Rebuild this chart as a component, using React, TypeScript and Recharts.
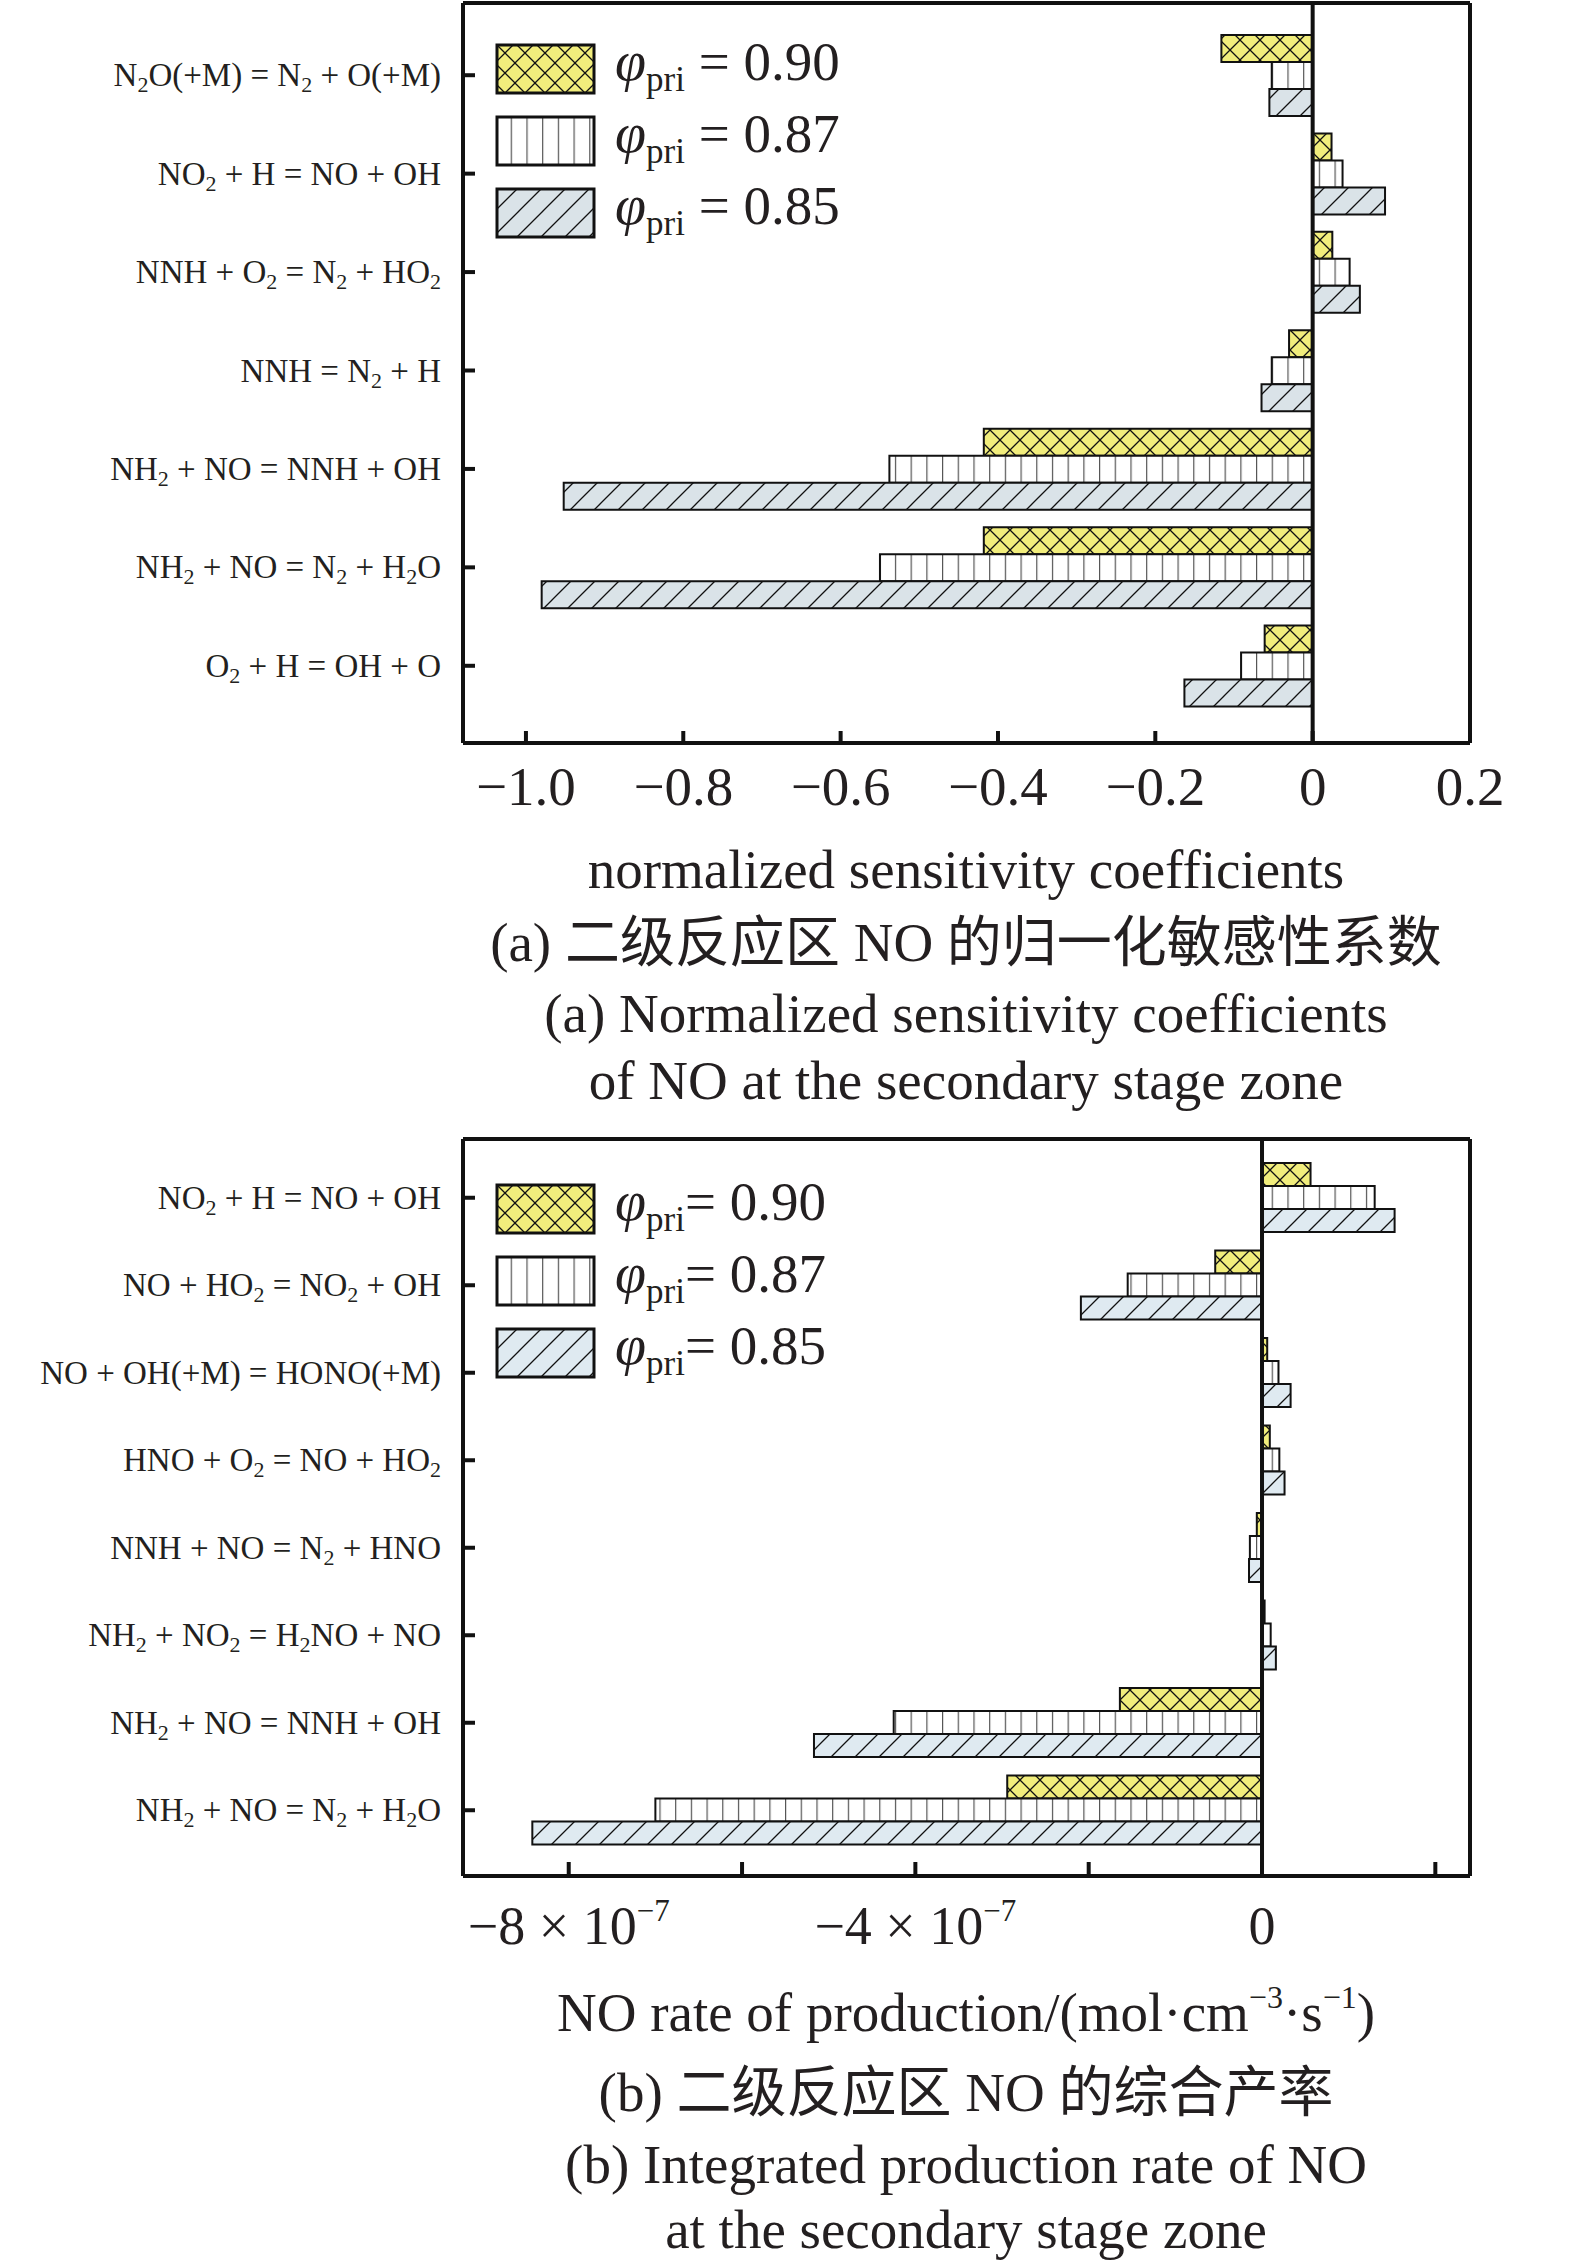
import React from 'react';
import { BarChart, Bar, XAxis, YAxis, ReferenceLine, Legend } from 'recharts';

const sensCategories = [
  'N_2O(+M) = N_2 + O(+M)',
  'NO_2 + H = NO + OH',
  'NNH + O_2 = N_2 + HO_2',
  'NNH = N_2 + H',
  'NH_2 + NO = NNH + OH',
  'NH_2 + NO = N_2 + H_2O',
  'O_2 + H = OH + O',
];
const sens090 = [-0.116, 0.024, 0.025, -0.03, -0.418, -0.418, -0.061];
const sens087 = [-0.052, 0.038, 0.047, -0.052, -0.538, -0.55, -0.091];
const sens085 = [-0.055, 0.092, 0.06, -0.065, -0.952, -0.98, -0.163];
const sensTicks = [-1.0, -0.8, -0.6, -0.4, -0.2, 0, 0.2];
const sensDomain = [-1.08, 0.2];

const ropCategories = [
  'NO_2 + H = NO + OH',
  'NO + HO_2 = NO_2 + OH',
  'NO + OH(+M) = HONO(+M)',
  'HNO + O_2 = NO + HO_2',
  'NNH + NO = N_2 + HNO',
  'NH_2 + NO_2 = H_2NO + NO',
  'NH_2 + NO = NNH + OH',
  'NH_2 + NO = N_2 + H_2O',
];
const rop090 = [0.56e-7, -0.54e-7, 0.06e-7, 0.09e-7, -0.06e-7, 0.03e-7, -1.64e-7, -2.94e-7];
const rop087 = [1.3e-7, -1.55e-7, 0.19e-7, 0.2e-7, -0.14e-7, 0.1e-7, -4.25e-7, -7.0e-7];
const rop085 = [1.53e-7, -2.09e-7, 0.33e-7, 0.26e-7, -0.15e-7, 0.16e-7, -5.17e-7, -8.42e-7];
const ropTicks = [-8e-7, -6e-7, -4e-7, -2e-7, 0, 2e-7];
const ropTickLabels = ['−8', '', '−4', '', '0', ''];
const ropDomain = [-9.22e-7, 2.4e-7];

const seriesNames = ['0.90', '0.87', '0.85'];

const SERIF = "'Liberation Serif', 'Times New Roman', serif";
const CAPTION_FONT = "'Liberation Serif', 'Noto Sans CJK SC', serif";
const INK = '#231f20';

const sensData = sensCategories.map((name, i) => ({ name, a: sens090[i], b: sens087[i], c: sens085[i] }));
const ropData = ropCategories.map((name, i) => ({ name, a: rop090[i], b: rop087[i], c: rop085[i] }));

// "N_2O" -> N, sub 2, O
function chemParts(label: string) {
  const parts: { t: string; sub: boolean }[] = [];
  const re = /_(\d)/g;
  let last = 0;
  let m;
  while ((m = re.exec(label))) {
    if (m.index > last) parts.push({ t: label.slice(last, m.index), sub: false });
    parts.push({ t: m[1], sub: true });
    last = m.index + m[0].length;
  }
  if (last < label.length) parts.push({ t: label.slice(last), sub: false });
  return parts;
}

const CategoryTick = (props: any) => {
  const { x, y, payload } = props;
  const parts = chemParts(String(payload.value));
  let prevSub = false;
  return (
    <g>
      <line x1={x} x2={x + 12} y1={y} y2={y} stroke="#111" strokeWidth={4} />
      <text x={x - 22} y={y + 11} textAnchor="end" fontSize={33} fill={INK} fontFamily={SERIF}>
        {parts.map((p, i) => {
          const dy = p.sub ? 6 : prevSub ? -6 : 0;
          prevSub = p.sub;
          return (
            <tspan key={i} dy={dy} fontSize={p.sub ? 22 : 33}>
              {p.t}
            </tspan>
          );
        })}
      </text>
    </g>
  );
};

const SensXTick = (props: any) => {
  const { x, y, payload } = props;
  const v = payload.value as number;
  const label = v === 0 ? '0' : (v < 0 ? '−' : '') + Math.abs(v).toFixed(1);
  return (
    <g>
      <line x1={x} x2={x} y1={y} y2={y - 12} stroke="#111" strokeWidth={4} />
      <text x={x} y={y + 62} textAnchor="middle" fontSize={55} fill={INK} fontFamily={SERIF}>
        {label}
      </text>
    </g>
  );
};

const RopXTick = (props: any) => {
  const { x, y, payload, index } = props;
  const lab = ropTickLabels[index] ?? '';
  return (
    <g>
      <line x1={x} x2={x} y1={y} y2={y - 14} stroke="#111" strokeWidth={4} />
      {lab && (
        <text x={x} y={y + 68} textAnchor="middle" fontSize={54} fill={INK} fontFamily={SERIF}>
          {payload.value === 0 ? (
            '0'
          ) : (
            <>
              <tspan>{lab + ' × 10'}</tspan>
              <tspan fontSize={31} dy={-23}>
                −7
              </tspan>
            </>
          )}
        </text>
      )}
    </g>
  );
};

const Patterns = ({ id, hatchFill }: { id: string; hatchFill: string }) => (
  <defs>
    <pattern id={`x${id}`} patternUnits="userSpaceOnUse" width={20} height={20}>
      <rect width={20} height={20} fill="#f1ed7c" />
      <path d="M0,0 L20,20 M20,0 L0,20" stroke="#111" strokeWidth={1.3} />
    </pattern>
    <pattern id={`v${id}`} patternUnits="userSpaceOnUse" width={15.7} height={10}>
      <rect width={15.7} height={10} fill="#fff" />
      <line x1={0.6} x2={0.6} y1={0} y2={10} stroke="#555" strokeWidth={1.2} />
    </pattern>
    <pattern id={`d${id}`} patternUnits="userSpaceOnUse" width={24} height={24}>
      <rect width={24} height={24} fill={hatchFill} />
      <path d="M0,24 L24,0 M-6,6 L6,-6 M18,30 L30,18" stroke="#111" strokeWidth={1.3} />
    </pattern>
  </defs>
);

const LegendBox = ({ id, gap }: { id: string; gap: string }) => (
  <div>
    {seriesNames.map((n, i) => (
      <svg key={n} width={420} height={72} style={{ display: 'block', overflow: 'visible' }}>
        <rect
          x={2}
          y={2}
          width={97}
          height={48}
          fill={`url(#${['x', 'v', 'd'][i]}${id})`}
          stroke="#111"
          strokeWidth={3}
        />
        <text x={120} y={37} fontFamily={SERIF} fill={INK} fontSize={55}>
          <tspan fontStyle="italic" fontSize={56}>
            φ
          </tspan>
          <tspan fontSize={35} dy={11}>
            pri
          </tspan>
          <tspan dy={-11}>{gap + '= ' + n}</tspan>
        </text>
      </svg>
    ))}
  </div>
);

const Caption = ({ top, children }: { top: number; children: React.ReactNode }) => (
  <div
    style={{
      position: 'absolute',
      left: 366,
      width: 1200,
      top: top - 32,
      height: 64,
      lineHeight: '64px',
      textAlign: 'center',
      fontFamily: CAPTION_FONT,
      fontSize: 55,
      color: INK,
      whiteSpace: 'nowrap',
    }}
  >
    {children}
  </div>
);

const sup = (t: string) => (
  <span style={{ fontSize: 32, position: 'relative', top: -23 }}>{t}</span>
);

export default function App() {
  const frame = { stroke: '#111', strokeWidth: 4 };
  return (
    <div style={{ position: 'absolute', left: 0, top: 0, width: 1575, height: 2262, background: '#fff' }}>
      <div style={{ position: 'absolute', left: 0, top: 0 }}>
        <BarChart
          width={1575}
          height={820}
          data={sensData}
          layout="vertical"
          margin={{ top: 2, right: 104, bottom: 0, left: 462 }}
          barGap={0}
          barSize={27}
        >
          <Patterns id="1" hatchFill="#dae3e8" />
          <XAxis
            type="number"
            domain={sensDomain}
            ticks={sensTicks}
            height={77}
            tickSize={0}
            tickMargin={0}
            tickLine={false}
            axisLine={frame}
            tick={<SensXTick />}
            interval={0}
            allowDataOverflow
          />
          <XAxis xAxisId="top" orientation="top" type="number" domain={sensDomain} height={1} tick={false} tickLine={false} axisLine={frame} />
          <YAxis
            type="category"
            dataKey="name"
            width={1}
            tickSize={0}
            tickMargin={0}
            tickLine={false}
            axisLine={frame}
            tick={<CategoryTick />}
            interval={0}
            padding={{ top: 23, bottom: 28 }}
          />
          <YAxis yAxisId="right" orientation="right" type="category" dataKey="name" width={1} tick={false} tickLine={false} axisLine={frame} />
          <Bar dataKey="a" name={seriesNames[0]} fill="url(#x1)" stroke="#111" strokeWidth={2} isAnimationActive={false} />
          <Bar dataKey="b" name={seriesNames[1]} fill="url(#v1)" stroke="#111" strokeWidth={2} isAnimationActive={false} />
          <Bar dataKey="c" name={seriesNames[2]} fill="url(#d1)" stroke="#111" strokeWidth={2} isAnimationActive={false} />
          <ReferenceLine x={0} stroke="#111" strokeWidth={4} />
          <ReferenceLine x={sensDomain[1]} stroke="#111" strokeWidth={4} />
          <Legend
            layout="vertical"
            align="center"
            verticalAlign="middle"
            wrapperStyle={{ position: 'absolute', top: 43, left: 495, width: 440 }}
            content={() => <LegendBox id="1" gap=" " />}
          />
        </BarChart>
      </div>

      <Caption top={870}>normalized sensitivity coefficients</Caption>
      <Caption top={943}>(a) 二级反应区 NO 的归一化敏感性系数</Caption>
      <Caption top={1014}>(a) Normalized sensitivity coefficients</Caption>
      <Caption top={1081}>of NO at the secondary stage zone</Caption>

      <div style={{ position: 'absolute', left: 0, top: 1100 }}>
        <BarChart
          width={1575}
          height={856}
          data={ropData}
          layout="vertical"
          margin={{ top: 38, right: 104, bottom: 0, left: 462 }}
          barGap={0}
          barSize={23}
        >
          <Patterns id="2" hatchFill="#dfeaf1" />
          <XAxis
            type="number"
            domain={ropDomain}
            ticks={ropTicks}
            height={80}
            tickSize={0}
            tickMargin={0}
            tickLine={false}
            axisLine={frame}
            tick={<RopXTick />}
            interval={0}
            allowDataOverflow
          />
          <XAxis xAxisId="top" orientation="top" type="number" domain={ropDomain} height={1} tick={false} tickLine={false} axisLine={frame} />
          <YAxis
            type="category"
            dataKey="name"
            width={1}
            tickSize={0}
            tickMargin={0}
            tickLine={false}
            axisLine={frame}
            tick={<CategoryTick />}
            interval={0}
            padding={{ top: 15, bottom: 22 }}
          />
          <YAxis yAxisId="right" orientation="right" type="category" dataKey="name" width={1} tick={false} tickLine={false} axisLine={frame} />
          <Bar dataKey="a" name={seriesNames[0]} fill="url(#x2)" stroke="#111" strokeWidth={2} isAnimationActive={false} />
          <Bar dataKey="b" name={seriesNames[1]} fill="url(#v2)" stroke="#111" strokeWidth={2} isAnimationActive={false} />
          <Bar dataKey="c" name={seriesNames[2]} fill="url(#d2)" stroke="#111" strokeWidth={2} isAnimationActive={false} />
          <ReferenceLine x={0} stroke="#111" strokeWidth={4} />
          <ReferenceLine x={ropDomain[1]} stroke="#111" strokeWidth={4} />
          <Legend
            layout="vertical"
            align="center"
            verticalAlign="middle"
            wrapperStyle={{ position: 'absolute', top: 83, left: 495, width: 440 }}
            content={() => <LegendBox id="2" gap="" />}
          />
        </BarChart>
      </div>

      <Caption top={2013}>
        NO rate of production/(mol·cm{sup('−3')}·s{sup('−1')})
      </Caption>
      <Caption top={2093}>(b) 二级反应区 NO 的综合产率</Caption>
      <Caption top={2165}>(b) Integrated production rate of NO</Caption>
      <Caption top={2230}>at the secondary stage zone</Caption>
    </div>
  );
}
